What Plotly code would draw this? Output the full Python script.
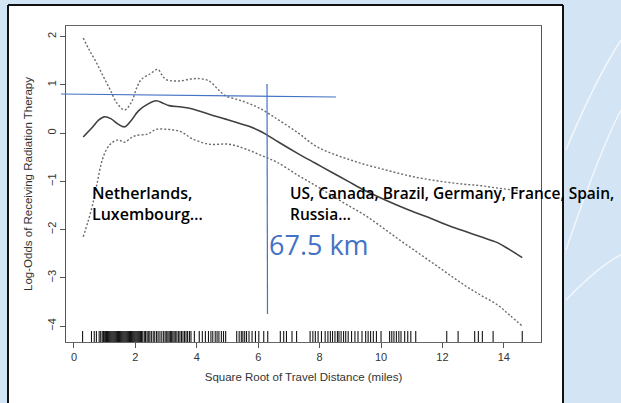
import plotly.graph_objects as go

# ---------------- data ----------------
center_x = [0.3, 0.6, 0.8, 1.0, 1.2, 1.45, 1.65, 1.85, 2.1, 2.4, 2.68, 2.9, 3.1, 3.5, 3.86,
            4.4, 4.94, 5.4, 5.7, 6.0, 6.24, 6.67, 7.31, 7.85, 8.39, 8.93, 9.47, 10.01, 10.55,
            11.09, 11.63, 12.17, 12.71, 13.25, 13.79, 14.2, 14.6]
center_y = [-0.08, 0.12, 0.27, 0.34, 0.3, 0.18, 0.13, 0.25, 0.46, 0.6, 0.67, 0.62, 0.57, 0.54, 0.5,
            0.39, 0.29, 0.2, 0.14, 0.06, -0.02, -0.19, -0.43, -0.62, -0.81, -1.0, -1.19, -1.35, -1.5,
            -1.64, -1.77, -1.91, -2.03, -2.15, -2.27, -2.42, -2.58]

upper_x = [0.3, 0.5, 0.73, 0.95, 1.17, 1.4, 1.65, 1.87, 2.05, 2.19, 2.46, 2.73, 2.85, 3.0, 3.43,
           3.8, 4.08, 4.4, 4.7, 4.94, 5.3, 5.59, 5.9, 6.12, 6.4, 6.67, 7.31, 7.85, 8.39, 8.93,
           9.47, 10.01, 10.55, 11.09, 11.63, 12.17, 12.71, 13.25, 13.79, 14.6]
upper_y = [1.97, 1.72, 1.46, 1.18, 0.91, 0.62, 0.48, 0.64, 0.95, 1.11, 1.22, 1.32, 1.22, 1.11, 1.08,
           1.12, 1.13, 1.08, 0.9, 0.77, 0.7, 0.64, 0.56, 0.49, 0.38, 0.27, 0.0, -0.26, -0.42, -0.54,
           -0.65, -0.74, -0.83, -0.91, -0.97, -1.02, -1.06, -1.09, -1.14, -1.2]

lower_x = [0.3, 0.45, 0.6, 0.75, 0.9, 1.05, 1.2, 1.43, 1.65, 1.85, 2.03, 2.4, 2.68, 3.0, 3.3,
           3.54, 3.86, 4.4, 5.05, 5.59, 6.13, 6.6, 7.31, 7.85, 8.39, 8.93, 9.47, 10.01, 10.55,
           11.09, 11.63, 12.17, 12.71, 13.25, 13.79, 14.2, 14.6]
lower_y = [-2.15, -1.85, -1.5, -1.05, -0.6, -0.35, -0.22, -0.14, -0.19, -0.1, -0.05, -0.02, 0.08, 0.08, 0.06,
           0.01, -0.12, -0.23, -0.23, -0.33, -0.47, -0.6, -0.88, -1.08, -1.29, -1.5, -1.7, -1.94, -2.19,
           -2.43, -2.67, -2.91, -3.15, -3.36, -3.56, -3.78, -4.0]

rug_x = [0.28, 0.57, 0.66, 0.73, 0.82, 0.87, 0.92, 0.96, 1.0, 1.03, 1.06, 1.09, 1.12, 1.15, 1.18,
         1.21, 1.24, 1.27, 1.3, 1.33, 1.36, 1.39, 1.42, 1.45, 1.48, 1.51, 1.54, 1.57, 1.6, 1.63,
         1.66, 1.69, 1.72, 1.75, 1.78, 1.81, 1.84, 1.87, 1.9, 1.93, 1.96, 1.99, 2.02, 2.05, 2.08,
         2.11, 2.14, 2.17, 2.2, 2.24, 2.29, 2.33, 2.38, 2.42, 2.47, 2.52, 2.58, 2.63, 2.69, 2.74,
         2.8, 2.86, 2.92, 2.97, 3.02, 3.06, 3.1, 3.14, 3.18, 3.22, 3.26, 3.3, 3.35, 3.4, 3.45,
         3.5, 3.55, 3.6, 3.65, 3.7, 3.76, 3.81, 3.92, 4.08, 4.18, 4.28, 4.38, 4.46, 4.52, 4.6,
         4.66, 4.72, 4.8, 4.87, 4.94, 5.3, 5.38, 5.45, 5.5, 5.56, 5.62, 5.7, 5.8, 5.91, 6.02,
         6.18, 6.31, 6.72, 6.83, 6.92, 7.1, 7.25, 7.69, 7.78, 7.86, 7.95, 8.06, 8.18, 8.27, 8.35,
         8.42, 8.5, 8.58, 8.63, 8.7, 8.78, 8.85, 8.93, 9.04, 9.15, 9.25, 9.38, 9.5, 9.58, 9.66,
         9.75, 9.85, 10.0, 10.28, 10.35, 10.42, 10.5, 10.58, 10.65, 10.77, 10.87, 10.97, 11.13,
         12.14, 12.51, 13.05, 13.17, 13.3, 13.65, 14.6]

x_ticks = [0, 2, 4, 6, 8, 10, 12, 14]
y_ticks = [-4, -3, -2, -1, 0, 1, 2]

x_title = "Square Root of Travel Distance (miles)"
y_title = "Log-Odds of Receiving Radiation Therapy"
left_label = ["Netherlands,", "Luxembourg…"]
right_label = ["US, Canada, Brazil, Germany, France, Spain,", "Russia…"]
km_label = "67.5 km"

# ---------------- layout geometry ----------------
W, H = 621, 403
ML, MR, MT, MB = 66, 80, 26, 61
PW, PH = W - ML - MR, H - MT - MB
X_RANGE = [-0.26, 15.21]
Y_RANGE = [-4.33, 2.22]
y_per_px = (Y_RANGE[1] - Y_RANGE[0]) / PH


def px_x(p):
    return (p - ML) / PW


def px_y(p):
    return (H - MB - p) / PH


fig = go.Figure()

# rug
rug_top = Y_RANGE[0] + 11 * y_per_px
rx, ry = [], []
for v in rug_x:
    rx += [v, v, None]
    ry += [Y_RANGE[0], rug_top, None]
fig.add_trace(go.Scatter(x=rx, y=ry, mode="lines", line=dict(color="#151515", width=1.1),
                         hoverinfo="skip", showlegend=False))

DOT = "2px,2px"
fig.add_trace(go.Scatter(x=upper_x, y=upper_y, mode="lines", line_shape="spline",
                         line=dict(color="#6a6a6a", width=1.4, dash=DOT), showlegend=False))
fig.add_trace(go.Scatter(x=lower_x, y=lower_y, mode="lines", line_shape="spline",
                         line=dict(color="#6a6a6a", width=1.4, dash=DOT), showlegend=False))
fig.add_trace(go.Scatter(x=center_x, y=center_y, mode="lines", line_shape="spline",
                         line=dict(color="#404040", width=1.6), showlegend=False))

shapes = []
# slide background card (white) with black border on left, top, right
shapes.append(dict(type="rect", xref="paper", yref="paper", layer="below",
                   x0=px_x(8), x1=px_x(563), y0=px_y(430), y1=px_y(5),
                   fillcolor="white", line=dict(width=0)))
for (a, b, c, d) in [(8, 5, 563, 5), (8, 5, 8, 430), (563, 5, 563, 430)]:
    shapes.append(dict(type="line", xref="paper", yref="paper", layer="below",
                       x0=px_x(a), y0=px_y(b), x1=px_x(c), y1=px_y(d),
                       line=dict(color="#111111", width=2)))
# decorative slide arcs on the right
for (p0, p1, p2) in [((566, 250), (600, 150), (621, 110)),
                     ((566, 150), (595, 80), (621, 40)),
                     ((566, 300), (600, 265), (621, 255))]:
    shapes.append(dict(type="path", xref="paper", yref="paper", layer="below",
                       path=f"M {px_x(p0[0])} {px_y(p0[1])} Q {px_x(p1[0])} {px_y(p1[1])} {px_x(p2[0])} {px_y(p2[1])}",
                       line=dict(color="rgba(255,255,255,0.7)", width=1.5)))
# blue annotation lines
shapes.append(dict(type="line", xref="paper", yref="paper",
                   x0=px_x(61), y0=px_y(94), x1=px_x(336), y1=px_y(97),
                   line=dict(color="#4472c4", width=1.2)))
shapes.append(dict(type="line", xref="paper", yref="paper",
                   x0=px_x(267), y0=px_y(84), x1=px_x(267.5), y1=px_y(314),
                   line=dict(color="#4472c4", width=1.2)))

TXT_FONT = "Open Sans"
annotations = []
for i, t in enumerate(left_label):
    annotations.append(dict(xref="paper", yref="paper", x=px_x(90), y=px_y(193 + 21 * i),
                            xanchor="left", yanchor="middle", text=t, showarrow=False,
                            font=dict(family=TXT_FONT, size=16, color="#000000", weight=600)))
for i, t in enumerate(right_label):
    annotations.append(dict(xref="paper", yref="paper", x=px_x(288), y=px_y(193 + 21 * i),
                            xanchor="left", yanchor="middle", text=t, showarrow=False,
                            font=dict(family=TXT_FONT, size=15.5, color="#000000", weight=600)))
annotations.append(dict(xref="paper", yref="paper", x=px_x(267), y=px_y(245),
                        xanchor="left", yanchor="middle", text=km_label, showarrow=False,
                        font=dict(family=TXT_FONT, size=27, color="#4472c4")))

AX_FONT = dict(family="Liberation Sans, Arial, sans-serif", size=11, color="#333333")
TITLE_FONT = dict(family="Liberation Sans, Arial, sans-serif", size=11.5, color="#333333")

fig.update_layout(
    width=W, height=H,
    margin=dict(l=ML, r=MR, t=MT, b=MB),
    paper_bgcolor="#d3e4f4",
    plot_bgcolor="rgba(0,0,0,0)",
    shapes=shapes,
    annotations=annotations,
    showlegend=False,
    xaxis=dict(range=X_RANGE, tickvals=x_ticks, ticks="outside", ticklen=5, tickcolor="#555",
               showgrid=False, zeroline=False, showline=True, linecolor="#666", linewidth=1,
               mirror=True, tickfont=AX_FONT,
               title=dict(text=x_title, font=TITLE_FONT, standoff=10)),
    yaxis=dict(range=Y_RANGE, tickvals=y_ticks, ticks="outside", ticklen=5, tickcolor="#555",
               showgrid=False, zeroline=False, showline=True, linecolor="#555", linewidth=1,
               mirror=True, tickfont=AX_FONT, tickangle=-90,
               title=dict(text=y_title, font=TITLE_FONT, standoff=10)),
)

fig.write_html("out.html")
